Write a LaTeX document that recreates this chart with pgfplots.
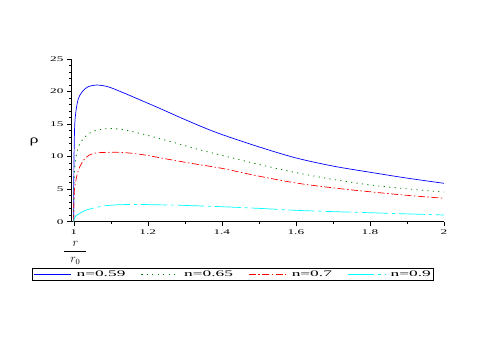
\documentclass[border=0pt]{standalone}
\usepackage{fontspec}
\setmainfont{Liberation Serif}
\newfontfamily\tickfont[FakeStretch=1.85]{Liberation Serif}
\newfontfamily\legfont[FakeStretch=2.05]{Liberation Serif}
\usepackage{pgfplots}
\pgfplotsset{compat=1.18}

\definecolor{cBlue}{RGB}{0,0,255}
\definecolor{cGreen}{RGB}{0,128,0}
\definecolor{cRed}{RGB}{255,0,0}
\definecolor{cCyan}{RGB}{0,255,255}

\begin{document}
\begin{tikzpicture}
\useasboundingbox (0bp,0bp) rectangle (485bp,339bp);
\begin{axis}[
    at={(71bp,117.3bp)}, anchor=south west,
    scale only axis,
    width=373bp, height=162.7bp,
    xmin=0.9927, xmax=2,
    ymin=0, ymax=25,
    axis lines*=left,
    axis line style={black, line width=0.5pt},
    xtick={1,1.2,1.4,1.6,1.8,2},
    minor xtick={1.1,1.3,1.5,1.7,1.9},
    ytick={0,5,10,15,20,25},
    minor y tick num=4,
    tick align=outside,
    major tick length=4bp,
    minor tick length=2bp,
    tick style={black, line width=0.4pt},
    /pgf/number format/assume math mode=true,
    ticklabel style={font=\tickfont\fontsize{7.2}{8}\selectfont},
    xticklabel style={yshift=-1bp},
    xlabel={\fontsize{12}{12}\selectfont$\displaystyle\frac{\makebox[22bp]{$r$}}{r_{0}}$},
    xlabel style={at={(axis description cs:0.012,-0.19)}, anchor=center},
    ylabel={\scalebox{1.5}[1]{\fontsize{12}{12}\selectfont ρ}},
    ylabel style={rotate=-90, at={(axis description cs:-0.099,0.49)}, anchor=center},
    legend columns=4,
    legend style={at={(axis description cs:-0.104,-0.285)}, anchor=north west,
        draw=black, line width=0.4pt, inner sep=1pt,
        font=\legfont\fontsize{8.5}{9}\selectfont,
        nodes={inner sep=1.5pt},
        /tikz/every even column/.append style={column sep=14bp}},
    legend image code/.code={\draw[#1] (0bp,0bp) -- (37bp,0bp);},
]
\addplot[cBlue, line width=0.7pt, smooth] coordinates {
(1,0) (1.0003,6) (1.001,10.5) (1.0035,15.6) (1.0125,18.9) (1.03,20.4)
(1.045,20.85) (1.062,21.0) (1.08,20.9) (1.1,20.6) (1.143,19.6) (1.18,18.7)
(1.233,17.4) (1.288,16.0) (1.35,14.5) (1.4,13.4) (1.5,11.5) (1.6,9.8)
(1.7,8.55) (1.8,7.6) (1.9,6.7) (2,5.9)
};
\addlegendentry{\hspace{4bp}n=0.59}
\addplot[cGreen, line width=0.8pt, dash pattern=on 1.2pt off 4.3pt, smooth] coordinates {
(1,0) (1.0003,4) (1.001,6.5) (1.004,9) (1.0125,11.5) (1.03,13.0)
(1.053,13.9) (1.089,14.3) (1.12,14.25) (1.143,14.05) (1.197,13.3)
(1.269,12.2) (1.33,11.2) (1.4,10.2) (1.5,8.8) (1.6,7.55) (1.7,6.5)
(1.8,5.65) (1.9,5.05) (2,4.55)
};
\addlegendentry{\hspace{4bp}n=0.65}
\addplot[cRed, line width=0.7pt, dash pattern=on 7pt off 2.5pt on 1.5pt off 2.5pt, smooth] coordinates {
(1,0) (1.0003,2.5) (1.001,3.8) (1.003,5.4) (1.0125,7.9) (1.03,9.7)
(1.053,10.5) (1.09,10.65) (1.125,10.65) (1.16,10.5) (1.197,10.2)
(1.269,9.45) (1.33,8.85) (1.4,8.2) (1.5,7.0) (1.6,5.95) (1.7,5.2)
(1.8,4.6) (1.9,4.05) (2,3.6)
};
\addlegendentry{\hspace{4bp}n=0.7}
\addplot[cCyan, line width=0.7pt, dash pattern=on 26pt off 4pt on 3pt off 4pt, smooth] coordinates {
(1,0) (1.001,0.4) (1.005,0.85) (1.017,1.3) (1.03,1.7) (1.05,2.05)
(1.085,2.45) (1.12,2.6) (1.16,2.65) (1.2,2.63) (1.3,2.5) (1.4,2.3)
(1.5,2.05) (1.6,1.75) (1.7,1.55) (1.8,1.38) (1.9,1.2) (2,1.03)
};
\addlegendentry{\hspace{4bp}n=0.9}
\end{axis}
\end{tikzpicture}
\end{document}
